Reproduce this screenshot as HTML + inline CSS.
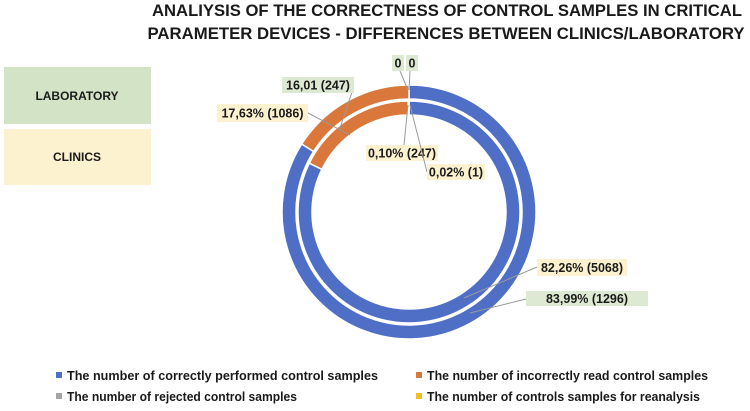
<!DOCTYPE html>
<html><head><meta charset="utf-8"><style>
body{margin:0;background:#fff;width:750px;height:406px;overflow:hidden}
text{font-family:"Liberation Sans",sans-serif;fill:#1a1a1a}
</style></head><body>
<svg id="c" width="750" height="406" viewBox="0 0 750 406">
<text x="447" y="16" text-anchor="middle" font-size="17" font-weight="bold" textLength="590" lengthAdjust="spacingAndGlyphs">ANALIYSIS OF THE CORRECTNESS OF CONTROL SAMPLES IN CRITICAL</text>
<text x="446" y="39" text-anchor="middle" font-size="17" font-weight="bold" textLength="597" lengthAdjust="spacingAndGlyphs">PARAMETER DEVICES - DIFFERENCES BETWEEN CLINICS/LABORATORY</text>
<rect x="4" y="67" width="147" height="57" fill="#d3e4c6"/>
<text x="77" y="100" text-anchor="middle" font-size="12" font-weight="bold">LABORATORY</text>
<rect x="4" y="129" width="147" height="56" fill="#fdf2d0"/>
<text x="77" y="161" text-anchor="middle" font-size="12" font-weight="bold">CLINICS</text>
<g id="rings"></g>
<g id="labels"></g>
<g id="legend"></g>
</svg>
<script>
const categories=["The number of correctly performed  control samples","The number of incorrectly read control samples","The number of rejected control samples","The number of controls samples for reanalysis"];
const colors=["#4f6fc6","#d9783a","#a5a5a5","#f2bd2a"];
const labValues=[83.99,16.01,0,0];
const clinicValues=[82.26,17.63,0.10,0.02];
const labLabels=["83,99% (1296)","16,01 (247)","0","0"];
const clinicLabels=["82,26% (5068)","17,63% (1086)","0,10% (247)","0,02% (1)"];
const NS="http://www.w3.org/2000/svg";
const cx=409,cy=212;
function mk(t,a,p){const e=document.createElementNS(NS,t);for(const k in a)e.setAttribute(k,a[k]);p.appendChild(e);return e;}
function pt(r,a){return [cx+r*Math.sin(a),cy-r*Math.cos(a)];}
function ring(vals,r0,r1,name){
  const tot=vals.reduce((s,v)=>s+v,0);let a=0;
  vals.forEach((v,i)=>{
    const b=a+v/tot*2*Math.PI;
    if(v>0){
      const [x1,y1]=pt(r1,a),[x2,y2]=pt(r1,b),[x3,y3]=pt(r0,b),[x4,y4]=pt(r0,a);
      const lg=(b-a)>Math.PI?1:0;
      const p=mk('path',{d:`M${x1},${y1}A${r1},${r1} 0 ${lg} 1 ${x2},${y2}L${x3},${y3}A${r0},${r0} 0 ${lg} 0 ${x4},${y4}Z`,fill:colors[i],stroke:'#fff','stroke-width':1.5},document.getElementById('rings'));
      
      
    }
    a=b;
  });
}
ring(labValues,113,127,'laboratory');
ring(clinicValues,97,111,'clinics');
const L=document.getElementById('labels');
const boxes=[
 {t:labLabels[1],x:282,y:77,w:72,h:16,f:'#dde9d3',lx:352,ly:92,tx:340,ty:128},
 {t:clinicLabels[1],x:217,y:104,w:91,h:18,f:'#fdf2d0',lx:308,ly:113,tx:350,ty:135},
 {t:labLabels[2],x:392,y:55,w:12,h:16,f:'#dde9d3',lx:400,ly:71,tx:408,ty:90},
 {t:labLabels[3],x:406,y:55,w:12,h:16,f:'#dde9d3',lx:410,ly:71,tx:409,ty:90},
 {t:clinicLabels[2],x:366,y:145,w:72,h:16,f:'#fdf2d0',lx:404,ly:145,tx:408,ty:105},
 {t:clinicLabels[3],x:427,y:164,w:58,h:16,f:'#fdf2d0',lx:427,ly:172,tx:410,ty:105},
 {t:clinicLabels[0],x:537,y:259,w:90,h:17,f:'#fdf2d0',lx:537,ly:267,tx:464,ty:298},
 {t:labLabels[0],x:526,y:291,w:122,h:15,f:'#dde9d3',lx:526,ly:299,tx:470,ty:313}
];
boxes.forEach((b,i)=>{
  const l=mk('polyline',{points:`${b.tx},${b.ty} ${b.lx},${b.ly}`,stroke:'#9a9a9a','stroke-width':1,fill:'none'},L);
  
  
  const r=mk('rect',{x:b.x,y:b.y,width:b.w,height:b.h,fill:b.f},L);
  
  
  const t=mk('text',{x:b.x+b.w/2,y:b.y+b.h/2+4.5,'text-anchor':'middle','font-size':12.5,'font-weight':'bold',fill:'#333'},L);
  
  
  t.textContent=b.t;
});
const G=document.getElementById('legend');
const lpos=[[56,380,311],[416,380,281],[56,401,230],[416,401,273]];
categories.forEach((c,i)=>{
  const [x,y,w]=lpos[i];
  const m=mk('rect',{x:x,y:y-8,width:6,height:6,fill:colors[i]},G);
  
  
  const t=mk('text',{x:x+11,y:y,'font-size':12.5,'font-weight':'bold',textLength:w,lengthAdjust:'spacingAndGlyphs'},G);
  
  
  t.textContent=c;
});
</script>
</body></html>
